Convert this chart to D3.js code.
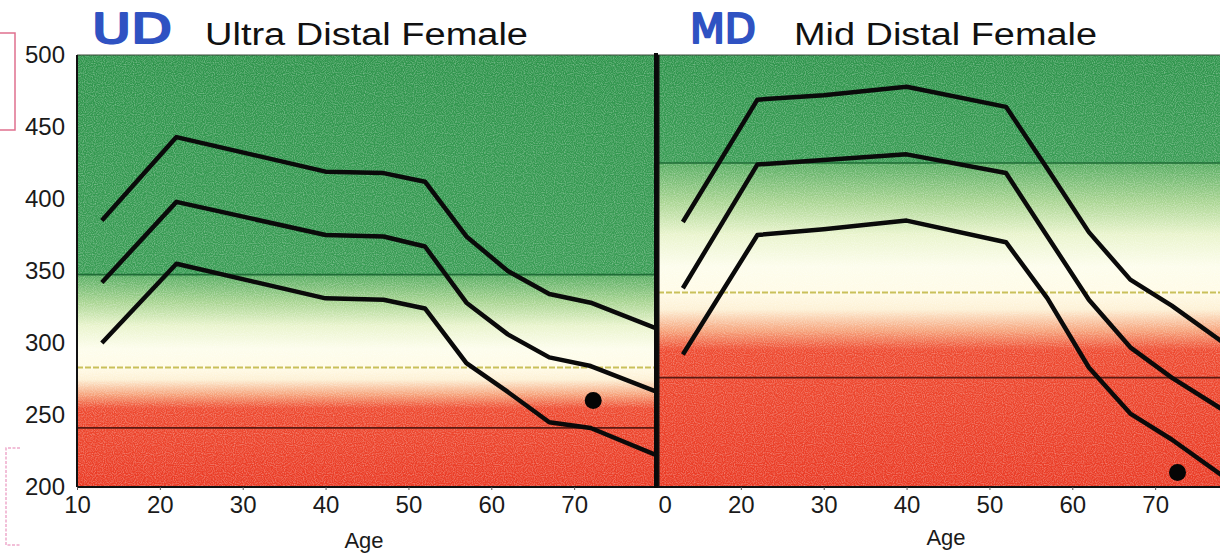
<!DOCTYPE html>
<html>
<head>
<meta charset="utf-8">
<script src="https://cdn.jsdelivr.net/npm/d3@7"></script>
<style>
  body { margin: 0; background: #fff; }
  text { font-family: "Liberation Sans", Arial, sans-serif; }
</style>
</head>
<body>
<div id="chart"></div>
<script>
"use strict";

// ages and reference curves
var ud_ages  = [13, 22, 40, 47, 52, 57, 62, 67, 72, 80];
var ud_upper = [385, 443, 419, 418, 412, 374, 350, 334, 328, 310];
var ud_mean  = [342, 398, 375, 374, 367, 328, 306, 290, 284, 266];
var ud_lower = [300, 355, 331, 330, 324, 286, 266, 245, 241, 222];

var md_ages  = [13, 22, 30, 40, 52, 57, 62, 67, 72, 80];
var md_upper = [384, 469, 472, 478, 464, 421, 377, 344, 326, 293];
var md_mean  = [338, 424, 427, 431, 418, 374, 330, 297, 276, 247];
var md_lower = [292, 375, 379, 385, 370, 331, 283, 251, 233, 200];

// patient measurement (age, value)
var ud_point = [72.3, 260];
var md_point = [72.7, 210];

// band lines: green limit, yellow limit, dark limit
var ud_bands = [347.5, 283, 241];
var md_bands = [425, 335, 276];

var y_ticks = [200, 250, 300, 350, 400, 450, 500];
var x_ticks = [10, 20, 30, 40, 50, 60, 70];

var W = 1220, H = 554;
var y = d3.scaleLinear().domain([200, 500]).range([487, 55]);

var svg = d3.select("#chart").append("svg")
    .attr("width", W)
    .attr("height", H);

var defs = svg.append("defs");

// speckle texture like the scanned print
var noise = defs.append("filter").attr("id", "speckle")
    .attr("x", 0).attr("y", 0).attr("width", 1).attr("height", 1);
noise.append("feTurbulence")
    .attr("type", "fractalNoise")
    .attr("baseFrequency", 0.9)
    .attr("numOctaves", 1)
    .attr("seed", 3)
    .attr("result", "n");
noise.append("feColorMatrix")
    .attr("type", "matrix")
    .attr("values", "0 0 0 0 1  0 0 0 0 1  0 0 0 0 1  0 0 0 -2.2 1.35");

function gradient(id, stops) {
    var g = defs.append("linearGradient")
        .attr("id", id)
        .attr("gradientUnits", "userSpaceOnUse")
        .attr("x1", 0).attr("x2", 0)
        .attr("y1", y(500)).attr("y2", y(200));
    stops.forEach(function(s) {
        g.append("stop")
            .attr("offset", (y(s[0]) - y(500)) / (y(200) - y(500)))
            .attr("stop-color", s[1]);
    });
}

// stops are relative to the band lines of each panel
function band_stops(b) {
    var g = b[0], yl = b[1];
    return [
        [500, "#2f954c"],
        [g + 0.3, "#3a9d55"],
        [g - 0.3, "#58ad62"],
        [g - (g - yl) * 0.3, "#a9d592"],
        [g - (g - yl) * 0.55, "#e9f4cc"],
        [g - (g - yl) * 0.8, "#fdfdec"],
        [yl, "#fffbe6"],
        [yl - (yl - b[2]) * 0.2, "#fdf0d4"],
        [yl - (yl - b[2]) * 0.45, "#f6a27a"],
        [yl - (yl - b[2]) * 0.68, "#ee4a30"],
        [200, "#ea3b25"]
    ];
}

gradient("bg_ud", band_stops(ud_bands));
gradient("bg_md", band_stops(md_bands));

function panel(opt) {
    var x = d3.scaleLinear().domain([10, 80]).range(opt.range);
    var left = Math.max(opt.range[0], opt.clipLeft);
    var right = Math.min(opt.range[1], W);

    var clip = defs.append("clipPath").attr("id", "clip_" + opt.id);
    clip.append("rect")
        .attr("x", left).attr("y", y(500))
        .attr("width", right - left).attr("height", y(200) - y(500));

    var g = svg.append("g");
    var inner = g.append("g").attr("clip-path", "url(#clip_" + opt.id + ")");

    inner.append("rect")
        .attr("x", left).attr("y", y(500))
        .attr("width", right - left).attr("height", y(200) - y(500))
        .attr("fill", "url(#bg_" + opt.id + ")");
    inner.append("rect")
        .attr("x", left).attr("y", y(500))
        .attr("width", right - left).attr("height", y(200) - y(500))
        .attr("filter", "url(#speckle)")
        .attr("opacity", 0.35);

    // band lines
    var line_styles = [
        { color: "#1f6b36", width: 1.6, dash: null },
        { color: "#c9c05a", width: 2, dash: "6,2" },
        { color: "#5a1a12", width: 1.8, dash: null }
    ];
    opt.bands.forEach(function(v, i) {
        inner.append("line")
            .attr("x1", left).attr("x2", right)
            .attr("y1", y(v)).attr("y2", y(v))
            .attr("stroke", line_styles[i].color)
            .attr("stroke-width", line_styles[i].width)
            .attr("stroke-dasharray", line_styles[i].dash);
    });

    // reference curves
    var line = d3.line()
        .x(function(d) { return x(d[0]); })
        .y(function(d) { return y(d[1]); });
    [opt.upper, opt.mean, opt.lower].forEach(function(vals) {
        inner.append("path")
            .datum(opt.ages.map(function(a, i) { return [a, vals[i]]; }))
            .attr("d", line)
            .attr("fill", "none")
            .attr("stroke", "#0a0a0a")
            .attr("stroke-width", 4.5)
            .attr("stroke-linejoin", "round");
    });

    inner.append("circle")
        .attr("cx", x(opt.point[0]))
        .attr("cy", y(opt.point[1]))
        .attr("r", 8.5)
        .attr("fill", "#050505");

    // frame
    g.append("line")
        .attr("x1", left).attr("x2", right)
        .attr("y1", y(500)).attr("y2", y(500))
        .attr("stroke", "#3a4a3a").attr("stroke-width", 1);
    g.append("line")
        .attr("x1", left).attr("x2", right)
        .attr("y1", y(200)).attr("y2", y(200))
        .attr("stroke", "#111").attr("stroke-width", 2);
    g.append("line")
        .attr("x1", left).attr("x2", left)
        .attr("y1", y(500)).attr("y2", y(200))
        .attr("stroke", "#111").attr("stroke-width", opt.id === "ud" ? 2 : 3);

    // x axis, clipped so the first label of the right panel is cut like the print
    var tclip = defs.append("clipPath").attr("id", "tclip_" + opt.id);
    tclip.append("rect").attr("x", opt.labelLeft).attr("y", 0)
        .attr("width", W).attr("height", H);
    var ax = g.append("g")
        .attr("transform", "translate(0," + y(200) + ")")
        .attr("clip-path", "url(#tclip_" + opt.id + ")")
        .call(d3.axisBottom(x).tickValues(x_ticks).tickSize(3).tickPadding(6));
    ax.select(".domain").remove();
    ax.selectAll("line").attr("stroke", "#555");
    ax.selectAll("text")
        .attr("font-size", 24)
        .attr("fill", "#1a1a1a")
        .style("font-family", "Liberation Sans, Arial, sans-serif");

    g.append("text")
        .attr("x", opt.ageX).attr("y", opt.ageY)
        .attr("text-anchor", "middle")
        .attr("font-size", 22)
        .attr("fill", "#1a1a1a")
        .text("Age");

    // titles
    g.append("text")
        .attr("x", opt.tagX).attr("y", 43)
        .attr("textLength", opt.tagW)
        .attr("lengthAdjust", "spacingAndGlyphs")
        .attr("font-size", 41)
        .attr("fill", "#2f52c2")
        .attr("stroke", "#2f52c2")
        .attr("stroke-width", 2.2)
        .attr("stroke-linejoin", "round")
        .style("font-family", "DejaVu Sans, sans-serif")
        .text(opt.tag);
    g.append("text")
        .attr("x", opt.titleX).attr("y", 45)
        .attr("textLength", opt.titleW)
        .attr("lengthAdjust", "spacingAndGlyphs")
        .attr("font-size", 31)
        .attr("fill", "#111")
        .text(opt.title);

    return x;
}

panel({
    id: "ud", range: [77, 657], clipLeft: 77, labelLeft: 0, bands: ud_bands,
    ages: ud_ages, upper: ud_upper, mean: ud_mean, lower: ud_lower, point: ud_point,
    ageX: 364, ageY: 548,
    tag: "UD", tagX: 92, tagW: 80,
    title: "Ultra Distal Female", titleX: 205, titleW: 323
});

panel({
    id: "md", range: [658, 1238], clipLeft: 657, labelLeft: 659, bands: md_bands,
    ages: md_ages, upper: md_upper, mean: md_mean, lower: md_lower, point: md_point,
    ageX: 946, ageY: 545,
    tag: "MD", tagX: 690, tagW: 66,
    title: "Mid Distal Female", titleX: 794, titleW: 303
});

// y axis on the left panel only
var ay = svg.append("g")
    .attr("transform", "translate(77,0)")
    .call(d3.axisLeft(y).tickValues(y_ticks).tickSize(0).tickPadding(12));
ay.select(".domain").remove();
ay.selectAll("text")
    .attr("font-size", 24)
    .attr("fill", "#1a1a1a")
    .style("font-family", "Liberation Sans, Arial, sans-serif");

// divider between the panels
svg.append("line")
    .attr("x1", 656).attr("x2", 656)
    .attr("y1", y(500) - 2).attr("y2", y(200) + 1)
    .attr("stroke", "#0a0a0a")
    .attr("stroke-width", 4);

// pink pen brackets on the left margin
svg.append("path")
    .attr("d", "M0,33H15V130H0")
    .attr("fill", "none")
    .attr("stroke", "#e0708e")
    .attr("stroke-width", 1.5);
svg.append("path")
    .attr("d", "M20,448H6V545H20")
    .attr("fill", "none")
    .attr("stroke", "#eeaacb")
    .attr("stroke-width", 1.5)
    .attr("stroke-dasharray", "3,1.5");
</script>
</body>
</html>
